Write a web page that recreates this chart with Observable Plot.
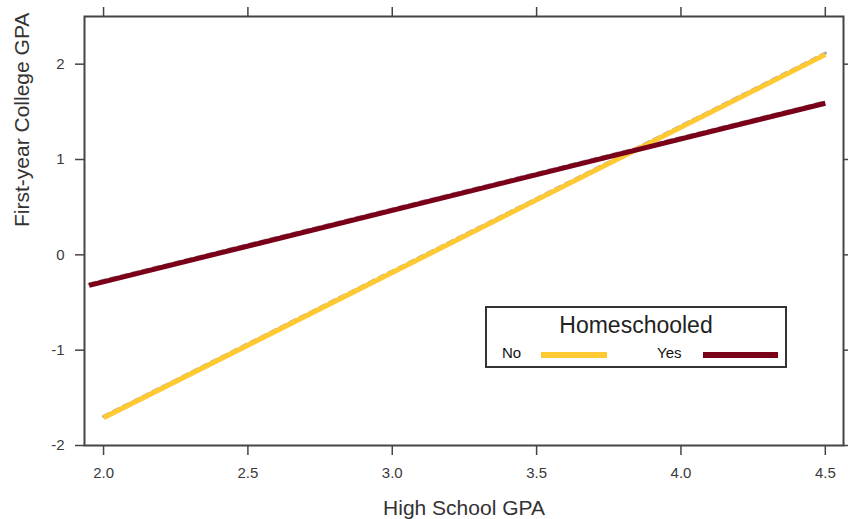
<!DOCTYPE html>
<html>
<head>
<meta charset="utf-8">
<script src="https://cdn.jsdelivr.net/npm/d3@7"></script>
<script src="https://cdn.jsdelivr.net/npm/@observablehq/plot@0.6"></script>
<style>
  html, body { margin: 0; padding: 0; background: #fff; }
  #wrap { position: relative; width: 848px; height: 519px; font-family: "Liberation Sans", Arial, sans-serif; }
  #legend { position: absolute; left: 485px; top: 306px; width: 298px; height: 58px; border: 2px solid #333; background: #fff; }
  #legend .title { position: absolute; left: 0; right: 0; top: 4px; text-align: center; font-size: 23px; color: #222; }
  #legend .lab { position: absolute; top: 36px; font-size: 15px; color: #111; }
  #legend .sw { position: absolute; top: 44px; height: 6px; }
</style>
</head>
<body>
<div id="wrap"></div>
<script>
// Data
const groups = ["No", "Yes"];
const colors = ["#FFC933", "#7A0019"];
const noX = [2.0, 4.5];
const noY = [-1.71, 2.10];
const yesX = [1.95, 4.5];
const yesY = [-0.32, 1.59];
const xTicks = [2.0, 2.5, 3.0, 3.5, 4.0, 4.5];
const yTicks = [-2, -1, 0, 1, 2];
const xLabel = "High School GPA";
const yLabel = "First-year College GPA";
const legendTitle = "Homeschooled";

const rows = [
  ...noX.map((x, i) => ({group: "No", x, y: noY[i]})),
  ...yesX.map((x, i) => ({group: "Yes", x, y: yesY[i]}))
];

const font = "Liberation Sans, Arial, sans-serif";
const axisColor = "#444";
const blank = () => "";

const chart = Plot.plot({
  width: 848,
  height: 519,
  marginLeft: 84,
  marginRight: 5,
  marginTop: 16,
  marginBottom: 74,
  style: {fontFamily: font, background: "#fff", overflow: "visible"},
  x: {domain: [1.934, 4.563]},
  y: {domain: [-2.0, 2.5]},
  color: {domain: groups, range: colors},
  marks: [
    Plot.axisX({anchor: "bottom", ticks: xTicks, tickFormat: d => d.toFixed(1), tickSize: 10, tickPadding: 12, fontSize: 15, color: "#3a3a3a", stroke: axisColor, strokeWidth: 1.5, label: null}),
    Plot.axisX({anchor: "top", ticks: xTicks, tickFormat: blank, tickSize: 10, stroke: axisColor, strokeWidth: 1.5, label: null}),
    Plot.axisY({anchor: "left", ticks: yTicks, tickFormat: d => String(d), tickSize: 9, tickPadding: 11, fontSize: 15, color: "#3a3a3a", stroke: axisColor, strokeWidth: 1.5, label: null}),
    Plot.axisY({anchor: "right", ticks: yTicks, tickFormat: blank, tickSize: 9, stroke: axisColor, strokeWidth: 1.5, label: null}),
    Plot.frame({stroke: axisColor, strokeWidth: 2}),
    Plot.line(rows, {x: "x", y: "y", z: "group", stroke: "#666", strokeOpacity: 0.6, strokeWidth: 3, strokeDasharray: "6,5", dy: -1.5}),
    Plot.line(rows, {x: "x", y: "y", z: "group", stroke: "group", strokeWidth: 5, strokeLinecap: "butt"}),
    Plot.text([xLabel], {frameAnchor: "bottom", dy: 63, lineAnchor: "middle", fontSize: 21, fill: "#333"}),
    Plot.text([yLabel], {frameAnchor: "left", dx: -62, dy: -4, rotate: -90, lineAnchor: "middle", fontSize: 21, fill: "#333"})
  ]
});

const wrap = document.getElementById("wrap");
wrap.appendChild(chart);

// Legend (HTML overlay)
const leg = document.createElement("div");
leg.id = "legend";
const t = document.createElement("div");
t.className = "title";
t.textContent = legendTitle;
leg.appendChild(t);
const labPos = [15, 170];
const swPos = [54, 216];
const swW = [66, 75];
groups.forEach((g, i) => {
  const l = document.createElement("div");
  l.className = "lab";
  l.style.left = labPos[i] + "px";
  l.textContent = g;
  leg.appendChild(l);
  const s = document.createElement("div");
  s.className = "sw";
  s.style.left = swPos[i] + "px";
  s.style.width = swW[i] + "px";
  s.style.background = colors[i];
  leg.appendChild(s);
});
wrap.appendChild(leg);
</script>
</body>
</html>
